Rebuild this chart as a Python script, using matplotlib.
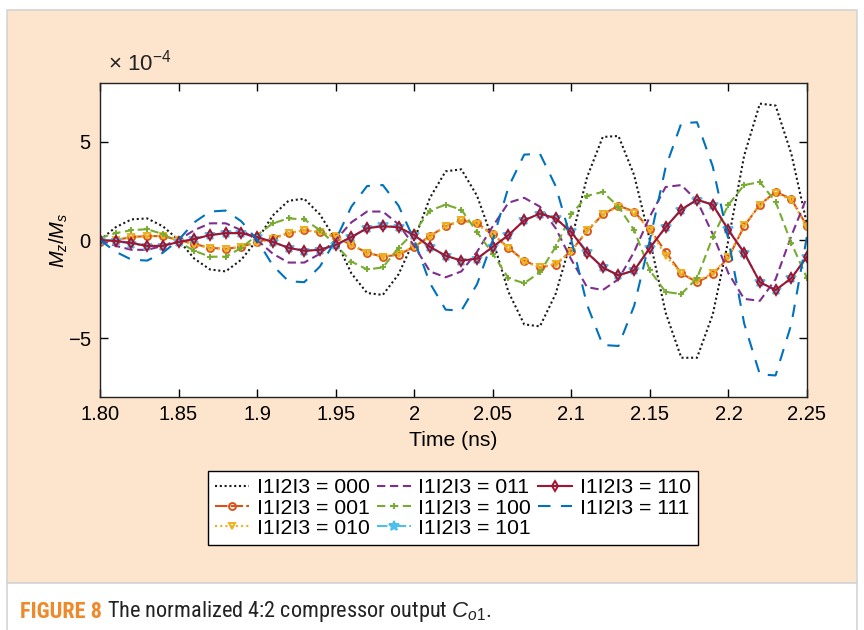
import matplotlib
matplotlib.use('Agg')
from matplotlib import pyplot as plt
from matplotlib import font_manager
from matplotlib.patches import Rectangle


def pick_font(names):
    have = set(f.name for f in font_manager.fontManager.ttflist)
    for n in names:
        if n in have:
            return n
    return 'DejaVu Sans'


# time axis (ns) and normalised Mz/Ms values (x 1e-4)
time = [1.80, 1.81, 1.82, 1.83, 1.84, 1.85, 1.86, 1.87, 1.88, 1.89,
        1.90, 1.91, 1.92, 1.93, 1.94, 1.95, 1.96, 1.97, 1.98, 1.99,
        2.00, 2.01, 2.02, 2.03, 2.04, 2.05, 2.06, 2.07, 2.08, 2.09,
        2.10, 2.11, 2.12, 2.13, 2.14, 2.15, 2.16, 2.17, 2.18, 2.19,
        2.20, 2.21, 2.22, 2.23, 2.24, 2.25]

mz_000 = [0.0, 0.65, 1.05, 1.1, 0.7, 0.0, -0.95, -1.5, -1.6, -1.0,
          0.0, 1.25, 2.0, 2.1, 1.3, 0.0, -1.7, -2.7, -2.8, -1.75,
          0.0, 2.15, 3.5, 3.6, 2.25, 0.0, -2.65, -4.3, -4.4, -2.75,
          0.0, 3.2, 5.25, 5.3, 3.3, 0.0, -3.7, -6.0, -6.0, -3.8,
          0.0, 4.3, 6.95, 6.85, 4.4, 0.8]
mz_001 = [-0.1, 0.0, 0.15, 0.2, 0.2, 0.0, -0.2, -0.4, -0.45, -0.35,
          -0.1, 0.1, 0.35, 0.5, 0.4, 0.15, -0.25, -0.65, -0.85, -0.75,
          -0.35, 0.2, 0.7, 1.0, 0.85, 0.3, -0.4, -1.05, -1.4, -1.25,
          -0.55, 0.45, 1.3, 1.75, 1.45, 0.55, -0.6, -1.7, -2.15, -1.75,
          -0.9, 0.7, 1.8, 2.45, 2.1, 0.7]
mz_010 = [-0.1, 0.0, 0.15, 0.2, 0.2, 0.0, -0.25, -0.4, -0.45, -0.35,
          -0.15, 0.05, 0.35, 0.5, 0.4, 0.2, -0.25, -0.65, -0.85, -0.7,
          -0.35, 0.15, 0.7, 1.0, 0.8, 0.25, -0.4, -1.1, -1.4, -1.2,
          -0.6, 0.5, 1.3, 1.7, 1.4, 0.5, -0.8, -1.7, -2.1, -1.7,
          -0.85, 0.75, 1.8, 2.4, 2.05, 0.65]
mz_011 = [0.0, -0.3, -0.5, -0.5, -0.3, 0.0, 0.5, 0.85, 0.85, 0.5,
          0.0, -0.7, -1.15, -1.15, -0.7, 0.0, 0.9, 1.45, 1.45, 0.8,
          -0.3, -1.6, -1.9, -1.6, -0.6, 0.7, 1.9, 2.15, 1.7, 0.6,
          -1.0, -2.4, -2.55, -2.0, -0.6, 1.2, 2.7, 2.8, 2.0, 0.3,
          -1.7, -3.0, -3.1, -2.0, 0.2, 2.2]
mz_100 = [0.1, 0.35, 0.5, 0.55, 0.3, -0.1, -0.55, -0.85, -0.85, -0.4,
          0.25, 0.85, 1.1, 1.05, 0.5, -0.25, -1.1, -1.5, -1.4, -0.4,
          0.4, 1.5, 1.8, 1.55, 0.4, -0.7, -1.95, -2.2, -1.65, -0.35,
          1.3, 2.25, 2.45, 1.7, 0.5, -1.55, -2.65, -2.75, -1.95, 0.15,
          1.8, 2.8, 2.95, 1.95, -0.15, -1.95]
mz_101 = [0.0, -0.05, -0.2, -0.3, -0.3, -0.1, 0.05, 0.25, 0.35, 0.35,
          0.15, -0.1, -0.4, -0.55, -0.5, -0.25, 0.15, 0.6, 0.75, 0.65,
          0.25, -0.35, -0.8, -1.05, -0.95, -0.35, 0.25, 1.0, 1.35, 1.1,
          0.45, -0.6, -1.4, -1.8, -1.55, -0.4, 0.65, 1.55, 2.05, 1.8,
          0.55, -0.65, -2.15, -2.55, -1.95, -0.85]
mz_110 = [0.0, -0.05, -0.15, -0.3, -0.3, -0.1, 0.05, 0.25, 0.35, 0.35,
          0.15, -0.1, -0.4, -0.55, -0.5, -0.25, 0.15, 0.6, 0.7, 0.65,
          0.25, -0.35, -0.8, -1.05, -0.95, -0.35, 0.25, 1.0, 1.35, 1.1,
          0.4, -0.65, -1.4, -1.8, -1.55, -0.4, 0.65, 1.55, 2.05, 1.8,
          0.5, -0.65, -2.15, -2.55, -1.95, -0.85]
mz_111 = [0.0, -0.6, -1.0, -1.05, -0.65, 0.0, 0.9, 1.45, 1.5, 0.95,
          0.0, -1.3, -2.1, -2.15, -1.35, 0.0, 1.7, 2.75, 2.8, 1.75,
          0.0, -2.2, -3.55, -3.6, -2.25, 0.0, 2.7, 4.35, 4.4, 2.75,
          0.0, -3.3, -5.35, -5.4, -3.35, 0.0, 3.7, 5.95, 6.0, 3.75,
          0.0, -4.25, -6.85, -6.9, -4.3, 0.2]

codes = ['000', '001', '010', '011', '100', '101', '110', '111']
xticks = [1.80, 1.85, 1.90, 1.95, 2.00, 2.05, 2.10, 2.15, 2.20, 2.25]
xtick_labels = ['1.80', '1.85', '1.9', '1.95', '2', '2.05', '2.1', '2.15',
                '2.2', '2.25']
yticks = [-5e-4, 0, 5e-4]

series = [mz_000, mz_001, mz_010, mz_011, mz_100, mz_101, mz_110, mz_111]
colors = ['#1a1a1a', '#D95319', '#EDB120', '#7E2F8E',
          '#77AC30', '#4DBEEE', '#A2142F', '#0072BD']
styles = [(0, (1, 1.3)), (0, (6, 1.5)), (0, (1, 1.5)), (0, (4, 2.2)),
          (0, (4, 2.2)), (0, (5, 1.5, 1, 1.5)), '-', (0, (6, 5))]
markers = [None, 'o', 'v', None, '+', '*', 'd', None]

main_font = pick_font(['Liberation Sans', 'Arial', 'DejaVu Sans'])
narrow_font = pick_font(['Liberation Sans Narrow', 'Roboto Condensed',
                         'DejaVu Sans Condensed', main_font])
plt.rcParams['font.family'] = [main_font, 'DejaVu Sans']
plt.rcParams['mathtext.fontset'] = 'custom'
plt.rcParams['mathtext.rm'] = main_font
plt.rcParams['mathtext.it'] = main_font + ':italic'

fig = plt.figure(figsize=(8.64, 6.30), dpi=100)
fig.patch.set_facecolor('white')

# peach panel + caption strip
fig.patches.append(Rectangle((7 / 864, 47 / 630), 850 / 864, 573 / 630,
                             transform=fig.transFigure, facecolor='#FDE4CC',
                             edgecolor='#D4D4D4', linewidth=1.2, zorder=-5))
fig.patches.append(Rectangle((7 / 864, -5 / 630), 850 / 864, 52 / 630,
                             transform=fig.transFigure, facecolor='white',
                             edgecolor='#D4D4D4', linewidth=1.2, zorder=-5))

ax = fig.add_axes([100 / 864, 1 - 397 / 630, 707 / 864, 314 / 630])
ax.set_facecolor('white')

handles = []
for code, y, c, ls, m in zip(codes, series, colors, styles, markers):
    vals = [v * 1e-4 for v in y]
    ms = 7 if m == '*' else 5
    face = c if m in ('*', '+') else 'none'
    line, = ax.plot(time, vals, color=c, linestyle=ls, linewidth=1.5,
                    marker=m, markersize=ms, markerfacecolor=face,
                    markeredgewidth=1.4, label='I1I2I3 = ' + code)
    handles.append(line)

ax.set_xlim(1.80, 2.25)
ax.set_ylim(-8e-4, 8e-4)
ax.set_xticks(xticks)
ax.set_xticklabels(xtick_labels)
ax.set_yticks(yticks)
ax.ticklabel_format(axis='y', style='sci', scilimits=(0, 0), useMathText=True)
ax.yaxis.get_offset_text().set_visible(False)
ax.text(0.012, 1.025, r'$\times$ 10$^{-4}$', transform=ax.transAxes,
        fontsize=16, ha='left', va='bottom', color='#222222')
ax.tick_params(direction='in', top=True, right=True, length=6, width=1,
               labelsize=14.5, pad=6)
for s in ax.spines.values():
    s.set_linewidth(1.0)
    s.set_color('#222222')

ax.set_xlabel('Time (ns)', fontsize=15.2, labelpad=5)
ax.set_ylabel(r'$M_z/M_s$', fontsize=14.5, labelpad=-2)

leg = fig.legend(handles=handles, loc='center', ncol=3,
                 bbox_to_anchor=(0.5243, 1 - 508 / 630), fontsize=15.3,
                 handlelength=1.6, handletextpad=0.35, columnspacing=0.35,
                 labelspacing=0.05, borderpad=0.35, fancybox=False,
                 framealpha=1, edgecolor='black')
leg.get_frame().set_linewidth(1.0)

# caption
cap = fig.text(20 / 864, 1 - 612 / 630, 'FIGURE 8', fontsize=16,
               fontweight='bold', color='#EE8A2C', family=narrow_font,
               va='center', ha='left')
ax.annotate(' The normalized 4:2 compressor output $C_{o1}$.',
            xy=(1, 0.5), xycoords=cap, va='center', ha='left',
            fontsize=16, family=narrow_font, color='#222222',
            annotation_clip=False)

plt.savefig('out.png', dpi=100)
